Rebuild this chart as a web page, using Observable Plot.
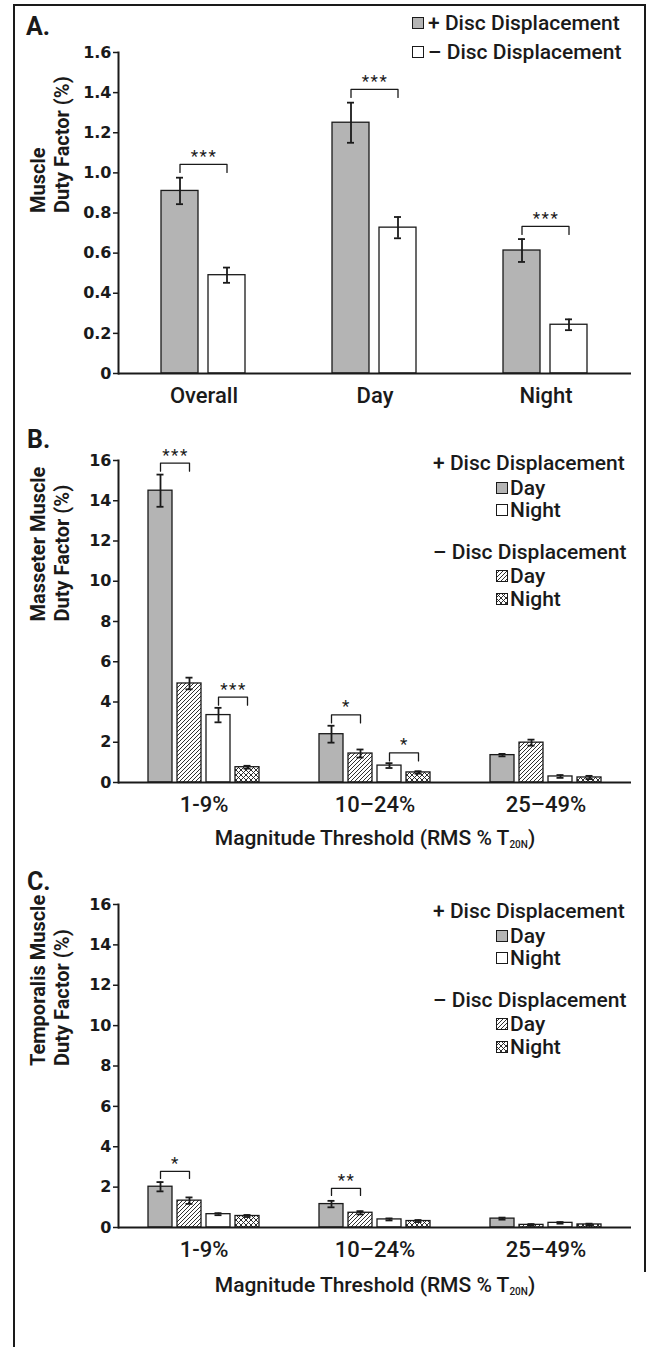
<!DOCTYPE html>
<html>
<head>
<meta charset="utf-8">
<script src="https://cdn.jsdelivr.net/npm/d3@7"></script>
<script src="https://cdn.jsdelivr.net/npm/@observablehq/plot@0.6"></script>
<style>
  html, body { margin: 0; padding: 0; background: #fff; }
  #root { position: relative; width: 650px; height: 1347px; overflow: hidden; font-family: Roboto, "Liberation Sans", Arial, sans-serif; color: #1a1a1a; }
  #root svg.plot { position: absolute; left: 0; }
  .ov { position: absolute; white-space: nowrap; }
  .panel-label { font-weight: 700; font-size: 25px; line-height: 25px; }
  .leg { font-size: 21px; line-height: 24px; font-weight: 500; }
  .leg svg { position: absolute; }
  .xtitle { font-size: 21px; line-height: 24px; font-weight: 500; transform: translateX(-50%); }
  .xtitle sub { font-size: 10px; vertical-align: -3px; }
  .stars text { letter-spacing: 1.5px; }
</style>
</head>
<body>
<svg width="0" height="0" style="position:absolute">
  <defs>
    <pattern id="hatch" patternUnits="userSpaceOnUse" width="4" height="4">
      <rect width="4" height="4" fill="#fff"></rect>
      <path d="M-1,1 l2,-2 M0,4 l4,-4 M3,5 l2,-2" stroke="#1a1a1a" stroke-width="0.9"></path>
    </pattern>
    <pattern id="cross" patternUnits="userSpaceOnUse" width="5" height="5">
      <rect width="5" height="5" fill="#fff"></rect>
      <path d="M0,0 L5,5 M5,0 L0,5" stroke="#1a1a1a" stroke-width="0.9"></path>
    </pattern>
  </defs>
</svg>
<div id="root"></div>
<script>
// ---------------- DATA ----------------
// Panel A
const panelACategories = ["Overall", "Day", "Night"];
const panelASeries = ["+ Disc Displacement", "– Disc Displacement"];
const panelAPlusValues = [0.91, 1.25, 0.613];
const panelAPlusErrors = [0.066, 0.10, 0.057];
const panelAMinusValues = [0.49, 0.727, 0.243];
const panelAMinusErrors = [0.038, 0.053, 0.027];
const panelABracketCategories = ["Overall", "Day", "Night"];
const panelABracketLevels = [1.042, 1.416, 0.733];
const panelABracketLabels = ["***", "***", "***"];
const panelAYTicks = [0, 0.2, 0.4, 0.6, 0.8, 1.0, 1.2, 1.4, 1.6];
const panelAYTitle = "Muscle\nDuty Factor (%)";

// Panels B and C
const thresholds = ["1-9%", "10–24%", "25–49%"];
const groupSeries = ["+ Day", "– Day", "+ Night", "– Night"];
const dutyTicks = [0, 2, 4, 6, 8, 10, 12, 14, 16];

const masseterPlusDay = [14.5, 2.4, 1.36];
const masseterPlusDayErr = [0.8, 0.42, 0.06];
const masseterMinusDay = [4.92, 1.44, 1.98];
const masseterMinusDayErr = [0.29, 0.2, 0.15];
const masseterPlusNight = [3.35, 0.84, 0.3];
const masseterPlusNightErr = [0.36, 0.12, 0.07];
const masseterMinusNight = [0.76, 0.5, 0.25];
const masseterMinusNightErr = [0.07, 0.06, 0.08];
const masseterBracketThresholds = ["1-9%", "1-9%", "10–24%", "10–24%"];
const masseterBracketFrom = ["+ Day", "+ Night", "+ Day", "+ Night"];
const masseterBracketTo = ["– Day", "– Night", "– Day", "– Night"];
const masseterBracketLevels = [15.87, 4.24, 3.36, 1.47];
const masseterBracketLabels = ["***", "***", "*", "*"];
const masseterYTitle = "Masseter Muscle\nDuty Factor (%)";

const temporalisPlusDay = [2.02, 1.16, 0.44];
const temporalisPlusDayErr = [0.23, 0.16, 0.05];
const temporalisMinusDay = [1.33, 0.73, 0.13];
const temporalisMinusDayErr = [0.16, 0.08, 0.04];
const temporalisPlusNight = [0.66, 0.4, 0.23];
const temporalisPlusNightErr = [0.05, 0.05, 0.04];
const temporalisMinusNight = [0.57, 0.32, 0.15];
const temporalisMinusNightErr = [0.05, 0.05, 0.04];
const temporalisBracketThresholds = ["1-9%", "10–24%"];
const temporalisBracketFrom = ["+ Day", "+ Day"];
const temporalisBracketTo = ["– Day", "– Day"];
const temporalisBracketLevels = [2.78, 1.94];
const temporalisBracketLabels = ["*", "**"];
const temporalisYTitle = "Temporalis Muscle\nDuty Factor (%)";

const xAxisTitle = "Magnitude Threshold (RMS % T";
const xAxisTitleSub = "20N";
const legendHeadersBC = ["+ Disc Displacement", "– Disc Displacement"];
const legendItemsBC = ["Day", "Night"];

// ---------------- STYLE ----------------
const INK = "#1a1a1a";
const GRAY = "#b4b4b4";
const FONT = "Roboto, 'Liberation Sans', Arial, sans-serif";
const TICKFONT = "'DejaVu Sans', Roboto, sans-serif";

function panel(o) {
  const rows = [];
  o.categories.forEach((c, i) => o.series.forEach((s, j) =>
    rows.push({cat: c, series: s, value: o.values[j][i], err: o.errors[j][i]})));
  const brackets = o.bracketCats.map((c, i) => ({
    id: i, cat: c, from: o.bracketFrom[i], to: o.bracketTo[i],
    level: o.bracketLevels[i], label: o.bracketLabels[i]
  }));
  const bracketPath = brackets.flatMap(b => [
    {id: b.id, cat: b.cat, series: b.from, y: b.level - o.bracketDrop},
    {id: b.id, cat: b.cat, series: b.from, y: b.level},
    {id: b.id, cat: b.cat, series: b.to, y: b.level},
    {id: b.id, cat: b.cat, series: b.to, y: b.level - o.bracketDrop}
  ]);
  const svg = Plot.plot({
    width: 650,
    height: o.height,
    marginLeft: 117,
    marginRight: 18,
    marginTop: o.marginTop,
    marginBottom: o.marginBottom,
    style: {fontFamily: FONT, background: "transparent", color: INK, overflow: "visible"},
    fx: {domain: o.categories, padding: 0, label: null},
    x: {domain: o.series, paddingInner: o.pIn, paddingOuter: o.pOut, axis: null},
    y: {domain: o.yDomain, label: null},
    color: {domain: o.series, range: o.fills},
    marks: [
      Plot.barY(rows, {fx: "cat", x: "series", y: "value", fill: "series", stroke: INK, strokeWidth: 1.3}),
      Plot.ruleX(rows, {fx: "cat", x: "series", y1: d => d.value - d.err, y2: d => d.value + d.err, stroke: INK, strokeWidth: 1.8}),
      Plot.tickY(rows, {fx: "cat", x: "series", y: d => d.value + d.err, inset: o.capInset, stroke: INK, strokeWidth: 1.8}),
      Plot.tickY(rows, {fx: "cat", x: "series", y: d => d.value - d.err, inset: o.capInset, stroke: INK, strokeWidth: 1.8}),
      Plot.line(bracketPath, {fx: "cat", x: "series", y: "y", z: "id", stroke: INK, strokeWidth: 1.3}),
      Plot.text(brackets, {fx: "cat", x: "from", y: "level", text: "label", dx: o.halfStep, dy: -8, fontSize: 17, fill: INK, className: "stars"}),
      Plot.ruleY([0], {stroke: INK, strokeWidth: 2}),
      Plot.frame({anchor: "left", facet: "super", stroke: INK, strokeWidth: 2}),
      Plot.axisY({ticks: o.yTicks, tickFormat: o.tickFormat, tickSize: 5, tickPadding: 2, fontSize: 16, fontFamily: TICKFONT, fontWeight: "bold", label: null, strokeWidth: 1.5}),
      Plot.axisFx({anchor: "bottom", tickSize: 0, tickPadding: 14, fontSize: 22, fontWeight: 500, label: null}),
      Plot.text([o.yTitle], {frameAnchor: "left", rotate: -90, dx: -69, fontSize: 20, fontWeight: "bold", lineHeight: 1.2, facet: "super", fill: INK})
    ]
  });
  svg.classList.add("plot");
  svg.style.top = o.top + "px";
  return svg;
}

const root = document.getElementById("root");

// frame border
const frameBox = document.createElement("div");
frameBox.className = "ov";
Object.assign(frameBox.style, {left: "13px", top: "4px", width: "629px", height: "1266px", borderTop: "2px solid " + INK, borderLeft: "2px solid " + INK, borderRight: "2px solid " + INK});
root.appendChild(frameBox);
const frameTail = document.createElement("div");
frameTail.className = "ov";
Object.assign(frameTail.style, {left: "13px", top: "1270px", width: "2px", height: "77px", background: INK});
root.appendChild(frameTail);

// Panel A
root.appendChild(panel({
  top: 0, height: 420, marginTop: 52, marginBottom: 47,
  categories: panelACategories, series: panelASeries,
  values: [panelAPlusValues, panelAMinusValues],
  errors: [panelAPlusErrors, panelAMinusErrors],
  fills: [GRAY, "#fff"],
  pIn: 0.208, pOut: 0.893, capInset: 15, halfStep: 24,
  yDomain: [0, 1.6], yTicks: panelAYTicks, tickFormat: d => d === 0 ? "0" : d.toFixed(1),
  bracketCats: panelABracketCategories,
  bracketFrom: panelABracketCategories.map(() => panelASeries[0]),
  bracketTo: panelABracketCategories.map(() => panelASeries[1]),
  bracketLevels: panelABracketLevels, bracketLabels: panelABracketLabels, bracketDrop: 0.04,
  yTitle: panelAYTitle
}));

const groupFills = [GRAY, "url(#hatch)", "#fff", "url(#cross)"];

// Panel B
root.appendChild(panel({
  top: 420, height: 450, marginTop: 40, marginBottom: 88,
  categories: thresholds, series: groupSeries,
  values: [masseterPlusDay, masseterMinusDay, masseterPlusNight, masseterMinusNight],
  errors: [masseterPlusDayErr, masseterMinusDayErr, masseterPlusNightErr, masseterMinusNightErr],
  fills: groupFills,
  pIn: 0.1667, pOut: 0.945, capInset: 8.5, halfStep: 15,
  yDomain: [0, 16], yTicks: dutyTicks, tickFormat: d => String(d),
  bracketCats: masseterBracketThresholds, bracketFrom: masseterBracketFrom, bracketTo: masseterBracketTo,
  bracketLevels: masseterBracketLevels, bracketLabels: masseterBracketLabels, bracketDrop: 0.4,
  yTitle: masseterYTitle
}));

// Panel C
root.appendChild(panel({
  top: 870, height: 477, marginTop: 34, marginBottom: 120,
  categories: thresholds, series: groupSeries,
  values: [temporalisPlusDay, temporalisMinusDay, temporalisPlusNight, temporalisMinusNight],
  errors: [temporalisPlusDayErr, temporalisMinusDayErr, temporalisPlusNightErr, temporalisMinusNightErr],
  fills: groupFills,
  pIn: 0.1667, pOut: 0.945, capInset: 8.5, halfStep: 15,
  yDomain: [0, 16], yTicks: dutyTicks, tickFormat: d => String(d),
  bracketCats: temporalisBracketThresholds, bracketFrom: temporalisBracketFrom, bracketTo: temporalisBracketTo,
  bracketLevels: temporalisBracketLevels, bracketLabels: temporalisBracketLabels, bracketDrop: 0.35,
  yTitle: temporalisYTitle
}));

// overlays
function addDiv(cls, left, top, html) {
  const d = document.createElement("div");
  d.className = "ov " + cls;
  d.style.left = left + "px";
  d.style.top = top + "px";
  d.innerHTML = html;
  root.appendChild(d);
  return d;
}
function swatch(fill, gap) {
  return `<svg width="12" height="12" style="left:${-gap}px;top:6px"><rect x="0.5" y="0.5" width="11" height="11" fill="${fill}" stroke="${INK}" stroke-width="1"></rect></svg>`;
}

// panel labels
addDiv("panel-label", 26, 13.5, "A.");
addDiv("panel-label", 27, 427, "B.");
addDiv("panel-label", 27, 869, "C.");

// Legend A
panelASeries.forEach((s, i) => {
  addDiv("leg", 428, [11, 40][i], swatch([GRAY, "#fff"][i], 16) + s);
});

// Legends B, C
function legendBC(top) {
  const offsets = [0, 25, 47, 89, 113, 136];
  addDiv("leg", 433, top + offsets[0], legendHeadersBC[0]);
  addDiv("leg", 510, top + offsets[1], swatch(groupFills[0], 14) + legendItemsBC[0]);
  addDiv("leg", 510, top + offsets[2], swatch(groupFills[2], 14) + legendItemsBC[1]);
  addDiv("leg", 433, top + offsets[3], legendHeadersBC[1]);
  addDiv("leg", 510, top + offsets[4], swatch(groupFills[1], 14) + legendItemsBC[0]);
  addDiv("leg", 510, top + offsets[5], swatch(groupFills[3], 14) + legendItemsBC[1]);
}
legendBC(451);
legendBC(899);

// x-axis titles
addDiv("xtitle", 375, 826, `${xAxisTitle}<sub>${xAxisTitleSub}</sub>)`);
addDiv("xtitle", 375, 1273, `${xAxisTitle}<sub>${xAxisTitleSub}</sub>)`);
</script>
</body>
</html>
